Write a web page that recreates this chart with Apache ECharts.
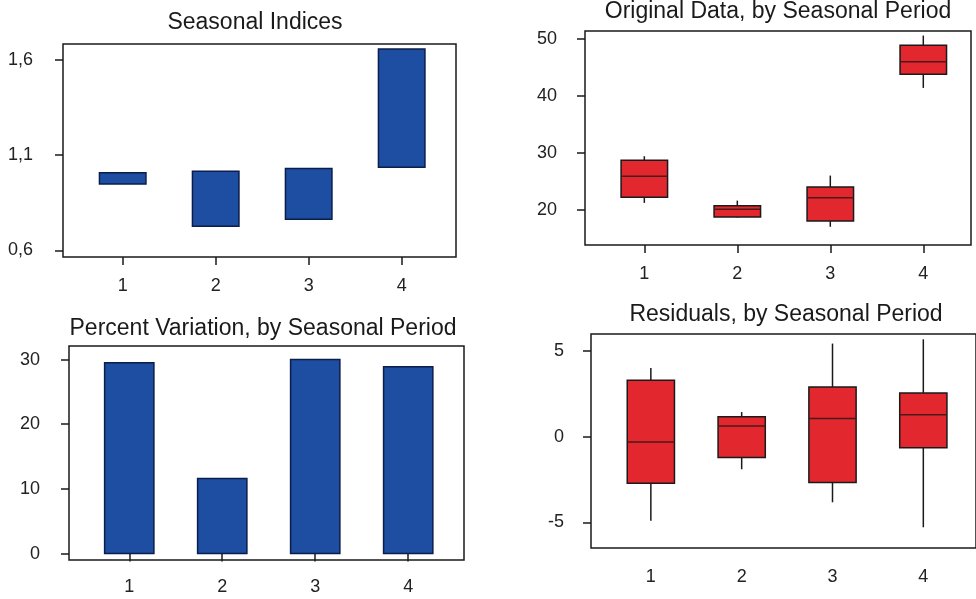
<!DOCTYPE html>
<html>
<head>
<meta charset="utf-8">
<script src="https://cdn.jsdelivr.net/npm/echarts@6/dist/echarts.min.js"></script>
<style>
html,body{margin:0;padding:0;background:#fff;}
#chart{width:976px;height:599px;}
</style>
</head>
<body>
<div id="chart"></div>
<script>
// ---- data ----
const periods = [1, 2, 3, 4];

// Seasonal indices (floating bars: low / high)
const seasonalLow  = [0.948, 0.726, 0.763, 1.037];
const seasonalHigh = [1.007, 1.016, 1.030, 1.658];
const seasonalTicks = [0.6, 1.1, 1.6];

// Original data, by seasonal period (boxplots)
const origMin    = [21.2, 18.6, 17.0, 41.4];
const origQ1     = [22.2, 18.7, 18.0, 43.8];
const origMedian = [25.9, 20.1, 22.1, 46.0];
const origQ3     = [28.7, 20.7, 24.0, 48.9];
const origMax    = [29.4, 21.6, 26.0, 50.6];
const origTicks  = [20, 30, 40, 50];

// Percent variation, by seasonal period
const percentVar = [29.5, 11.6, 30.0, 28.9];
const percentTicks = [0, 10, 20, 30];

// Residuals, by seasonal period (boxplots)
const resMin    = [-4.91, -1.90, -3.83, -5.29];
const resQ1     = [-2.72, -1.22, -2.68, -0.64];
const resMedian = [-0.31,  0.62,  1.07,  1.28];
const resQ3     = [ 3.30,  1.17,  2.91,  2.56];
const resMax    = [ 4.02,  1.44,  5.44,  5.69];
const resTicks  = [-5, 0, 5];

const titles = [
  'Seasonal Indices',
  'Original Data, by Seasonal Period',
  'Percent Variation, by Seasonal Period',
  'Residuals, by Seasonal Period'
];

// ---- styling ----
const FONT = '"Liberation Sans", Arial, Helvetica, sans-serif';
const BLUE = '#1d4ea2';
const BLUE_EDGE = '#0b1d4a';
const RED = '#e3272f';
const EDGE = '#1a1a1a';

const chart = echarts.init(document.getElementById('chart'), null, {renderer: 'canvas'});

function barItem(halfW, fill, stroke) {
  return function (params, api) {
    const x = api.value(0), lo = api.value(1), hi = api.value(2);
    const p1 = api.coord([x - halfW, hi]);
    const p2 = api.coord([x + halfW, lo]);
    return {
      type: 'rect',
      shape: {x: p1[0], y: p1[1], width: p2[0] - p1[0], height: p2[1] - p1[1]},
      style: {fill: fill, stroke: stroke, lineWidth: 1.5}
    };
  };
}

function boxItem(halfW) {
  return function (params, api) {
    const x = api.value(0);
    const mn = api.value(1), q1 = api.value(2), md = api.value(3), q3 = api.value(4), mx = api.value(5);
    const pTopL = api.coord([x - halfW, q3]);
    const pBotR = api.coord([x + halfW, q1]);
    const pMax = api.coord([x, mx]);
    const pMin = api.coord([x, mn]);
    const pMedL = api.coord([x - halfW, md]);
    const pMedR = api.coord([x + halfW, md]);
    return {
      type: 'group',
      children: [
        {type: 'line', shape: {x1: pMax[0], y1: pMax[1], x2: pMax[0], y2: pTopL[1]}, style: {stroke: EDGE, lineWidth: 1.5}},
        {type: 'line', shape: {x1: pMin[0], y1: pBotR[1], x2: pMin[0], y2: pMin[1]}, style: {stroke: EDGE, lineWidth: 1.5}},
        {type: 'rect', shape: {x: pTopL[0], y: pTopL[1], width: pBotR[0] - pTopL[0], height: pBotR[1] - pTopL[1]},
          style: {fill: RED, stroke: EDGE, lineWidth: 1.5}},
        {type: 'line', shape: {x1: pMedL[0], y1: pMedL[1], x2: pMedR[0], y2: pMedR[1]}, style: {stroke: '#4a1a1a', lineWidth: 1.5}}
      ]
    };
  };
}

const gridDefs = [
  {left: 63,  top: 44,  width: 393, height: 213},
  {left: 585, top: 31,  width: 386, height: 214},
  {left: 69,  top: 346, width: 395, height: 214},
  {left: 591, top: 334, width: 394, height: 214}
];
const xRanges = [[0.358, 4.584], [0.362, 4.513], [0.352, 4.6], [0.341, 4.58]];
const yRanges = [[0.565, 1.684], [13.8, 51.4], [-1.0, 32.1], [-6.5, 6.0]];
const yTickSets = [seasonalTicks, origTicks, percentTicks, resTicks];
const xMargins = [20, 20, 18, 20];
const yMargins = [30, 28, 29, 27];

const grids = gridDefs.map(g => Object.assign({
  show: true, borderColor: EDGE, borderWidth: 1.5, backgroundColor: 'transparent', containLabel: false
}, g));

const tickStyle = {show: true, inside: false, length: 8, lineStyle: {color: EDGE, width: 1.5}};

const xAxes = gridDefs.map((g, i) => ({
  type: 'value', gridIndex: i, min: xRanges[i][0], max: xRanges[i][1],
  axisLine: {show: false},
  splitLine: {show: false},
  axisTick: Object.assign({customValues: periods}, tickStyle),
  axisLabel: {customValues: periods, margin: xMargins[i], color: '#222', fontFamily: FONT, fontSize: 18,
    formatter: v => String(Math.round(v))}
}));

const yAxes = gridDefs.map((g, i) => ({
  type: 'value', gridIndex: i, min: yRanges[i][0], max: yRanges[i][1],
  axisLine: {show: false},
  splitLine: {show: false},
  axisTick: Object.assign({customValues: yTickSets[i]}, tickStyle),
  axisLabel: {customValues: yTickSets[i], margin: yMargins[i], color: '#222', fontFamily: FONT, fontSize: 18,
    formatter: v => (i === 0 ? v.toFixed(1).replace('.', ',') : String(v))}
}));

const titleCenters = [[255, 11], [778, 0], [263, 317], [786, 303]];
const titleOpts = titles.map((t, i) => ({
  text: t, left: titleCenters[i][0], top: titleCenters[i][1], textAlign: 'center', padding: 0,
  textStyle: {fontFamily: FONT, fontSize: 23, fontWeight: 'normal', color: '#1a1a1a', lineHeight: 24}
}));

const series = [
  {
    type: 'custom', xAxisIndex: 0, yAxisIndex: 0,
    renderItem: barItem(0.25, BLUE, BLUE_EDGE),
    encode: {x: 0, y: [1, 2]},
    data: periods.map((p, k) => [p, seasonalLow[k], seasonalHigh[k]])
  },
  {
    type: 'custom', xAxisIndex: 1, yAxisIndex: 1,
    renderItem: boxItem(0.25),
    encode: {x: 0, y: [1, 2, 3, 4, 5]},
    data: periods.map((p, k) => [p, origMin[k], origQ1[k], origMedian[k], origQ3[k], origMax[k]])
  },
  {
    type: 'custom', xAxisIndex: 2, yAxisIndex: 2,
    renderItem: barItem(0.265, BLUE, BLUE_EDGE),
    encode: {x: 0, y: [1, 2]},
    data: periods.map((p, k) => [p, 0, percentVar[k]])
  },
  {
    type: 'custom', xAxisIndex: 3, yAxisIndex: 3,
    renderItem: boxItem(0.26),
    encode: {x: 0, y: [1, 2, 3, 4, 5]},
    data: periods.map((p, k) => [p, resMin[k], resQ1[k], resMedian[k], resQ3[k], resMax[k]])
  }
];

chart.setOption({
  animation: false,
  backgroundColor: '#ffffff',
  title: titleOpts,
  grid: grids,
  xAxis: xAxes,
  yAxis: yAxes,
  series: series
});
</script>
</body>
</html>
